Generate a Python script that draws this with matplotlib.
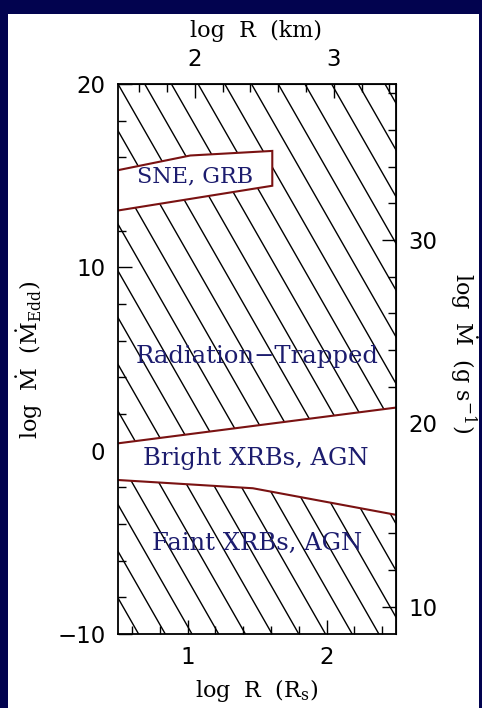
import numpy as np
import matplotlib
matplotlib.use("Agg")
import matplotlib.pyplot as plt
from matplotlib.patches import Rectangle
from matplotlib.ticker import MultipleLocator

# ---- data ----
x_limits = [0.5, 2.5]          # log R (R_s)
y_limits = [-10, 20]           # log Mdot (Mdot_Edd)
km_offset = 0.947              # log R(km) = log R(R_s) + offset
gs_offset = 18.5               # log Mdot(g/s) = log Mdot(Edd) + offset

sne_x = [0.5, 1.02, 1.61, 1.61, 0.5]
sne_y = [15.3, 16.1, 16.35, 14.45, 13.1]

bright_upper_x = [0.5, 2.5]
bright_upper_y = [0.4, 2.35]
bright_lower_x = [0.5, 1.47, 2.5]
bright_lower_y = [-1.6, -2.05, -3.5]

region_labels = ["SNE, GRB", "Radiation\u2212Trapped", "Bright XRBs, AGN", "Faint XRBs, AGN"]
region_label_x = [1.055, 1.5, 1.49, 1.5]
region_label_y = [14.95, 5.15, -0.4, -5.05]
region_label_size = [16, 17.5, 17.5, 17.5]

# ---- styling ----
navy = "#02034f"
edge_red = "#7a1212"
label_blue = "#1c1c6e"

plt.rcParams["mathtext.fontset"] = "dejavuserif"

W, H = 482, 708
fig = plt.figure(figsize=(W / 100, H / 100), dpi=100, facecolor=navy)
fig.patches.append(Rectangle((8 / W, 0), (479 - 8) / W, (H - 14) / H,
                             transform=fig.transFigure, facecolor="white",
                             edgecolor="none", zorder=-10))

ax_l, ax_r, ax_t, ax_b = 118, 396, 84, 634
ax = fig.add_axes([ax_l / W, 1 - ax_b / H, (ax_r - ax_l) / W, (ax_b - ax_t) / H])
ax.set_facecolor("none")
ax.set_xlim(*x_limits)
ax.set_ylim(*y_limits)

# hatch lines (decorative, 60 degrees, spacing fixed in pixels)
aw, ah = ax_r - ax_l, ax_b - ax_t
spacing_px = 26.7
slope_px = 1.75
for k in range(-13, 12):
    x0 = k * spacing_px / aw
    x1 = x0 + (ah / slope_px) / aw
    ax.plot([x0, x1], [1, 0], transform=ax.transAxes, color="black",
            lw=1.0, zorder=1, solid_capstyle="butt")

# white regions with dark red edges
ax.fill(sne_x, sne_y, facecolor="white", edgecolor=edge_red, lw=1.5, zorder=2)
band_x = list(bright_upper_x) + list(bright_lower_x[::-1])
band_y = list(bright_upper_y) + list(bright_lower_y[::-1])
ax.fill(band_x, band_y, facecolor="white", edgecolor="none", zorder=2)
ax.plot(bright_upper_x, bright_upper_y, color=edge_red, lw=1.5, zorder=3)
ax.plot(bright_lower_x, bright_lower_y, color=edge_red, lw=1.5, zorder=3)

for t, x, y, fs in zip(region_labels, region_label_x, region_label_y, region_label_size):
    ax.text(x, y, t, ha="center", va="center", color=label_blue,
            fontsize=fs, family="DejaVu Serif", zorder=4)

for s in ax.spines.values():
    s.set_linewidth(1.3)
    s.set_zorder(5)

tick_font = dict(fontsize=16.5, family="DejaVu Sans")

ax.xaxis.set_major_locator(MultipleLocator(1))
ax.xaxis.set_minor_locator(MultipleLocator(0.2))
ax.yaxis.set_major_locator(MultipleLocator(10))
ax.yaxis.set_minor_locator(MultipleLocator(2))
ax.tick_params(which="both", direction="in", top=False, right=False, width=1.0)
ax.tick_params(which="major", length=10, pad=9)
ax.tick_params(which="minor", length=5.5)
ax.set_xticks([1, 2])
ax.set_xticklabels(["1", "2"], **tick_font)
ax.set_yticks([-10, 0, 10, 20])
ax.set_yticklabels(["\u221210", "0", "10", "20"], **tick_font)

secx = ax.secondary_xaxis("top", functions=(lambda v: v + km_offset, lambda v: v - km_offset))
secx.xaxis.set_major_locator(MultipleLocator(1))
secx.xaxis.set_minor_locator(MultipleLocator(0.2))
secx.tick_params(which="both", direction="in", width=1.0)
secx.tick_params(which="major", length=10, pad=9)
secx.tick_params(which="minor", length=5.5)
secx.set_xticks([2, 3])
secx.set_xticklabels(["2", "3"], **tick_font)

secy = ax.secondary_yaxis("right", functions=(lambda v: v + gs_offset, lambda v: v - gs_offset))
secy.yaxis.set_major_locator(MultipleLocator(10))
secy.yaxis.set_minor_locator(MultipleLocator(2))
secy.tick_params(which="both", direction="in", width=1.0)
secy.tick_params(which="major", length=10, pad=9)
secy.tick_params(which="minor", length=5.5)
secy.set_yticks([10, 20, 30])
secy.set_yticklabels(["10", "20", "30"], **tick_font)

lab_font = dict(fontsize=16, family="DejaVu Serif", color="black")
fig.text(256 / W, 1 - 31 / H, "log  R  (km)", ha="center", va="center", **lab_font)
fig.text(257 / W, 1 - 690 / H, r"log  R  (R$_{\rm s}$)", ha="center", va="center", **lab_font)
fig.text(30 / W, 1 - 360 / H, r"log  $\dot{\rm M}$  ($\dot{\rm M}_{\rm Edd}$)", ha="center",
         va="center", rotation=90, **lab_font)
fig.text(463 / W, 1 - 353 / H, r"log  $\dot{\rm M}$  (g s$^{-1}$)", ha="center",
         va="center", rotation=270, **lab_font)

fig.savefig("out.png", dpi=100, facecolor=navy)
